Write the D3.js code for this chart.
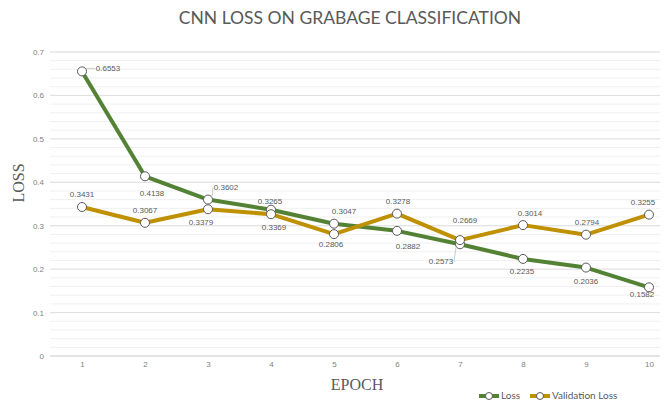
<!DOCTYPE html>
<html><head><meta charset="utf-8">
<script src="https://cdn.jsdelivr.net/npm/d3@7"></script>
<style>body{margin:0;background:#fff}svg{display:block}</style>
</head><body><svg id="c" width="669" height="404"></svg>
<script>
const epochs = [1,2,3,4,5,6,7,8,9,10];
const loss = [0.6553,0.4138,0.3602,0.3369,0.3047,0.2882,0.2573,0.2235,0.2036,0.1582];
const valLoss = [0.3431,0.3067,0.3379,0.3265,0.2806,0.3278,0.2669,0.3014,0.2794,0.3255];
const yTicks = [0,0.1,0.2,0.3,0.4,0.5,0.6,0.7];
const seriesNames = ["Loss","Validation Loss"];
const colors = ["#548235","#BF9000"];
// label offsets (layout) relative to point
const lossLabelOff = [[26,-3],[7,18],[18,-12],[3,18],[10,-12],[11,16],[-19,18],[-1,13],[0,14],[-7,8]];
const valLabelOff = [[0,-12],[0,-12],[-7,14],[-1,-12],[-3,11],[1,-12],[5,-19],[7,-11],[1,-12],[-6,-12]];

const svg = d3.select("#c");
const x = d3.scalePoint().domain(epochs).range([82,649]);
const y = d3.scaleLinear().domain([0,0.7]).range([356,52]);

// minor grid
svg.append("g").selectAll("line").data(d3.range(0,0.7001,0.02)).join("line")
  .attr("x1",50).attr("x2",660).attr("y1",d=>y(d)).attr("y2",d=>y(d))
  .attr("stroke","#f0f0f0").attr("stroke-width",1);
// major grid
svg.append("g").selectAll("line").data(yTicks).join("line")
  .attr("x1",50).attr("x2",660).attr("y1",d=>y(d)).attr("y2",d=>y(d))
  .attr("stroke",d=>d===0?"#d0d0d0":"#e0e0e0").attr("stroke-width",1);

const af = "Liberation Sans, Arial, sans-serif";
const ya = svg.append("g").attr("transform","translate(44,0)")
  .call(d3.axisLeft(y).tickValues(yTicks).tickSize(0).tickPadding(0).tickFormat(d=>d===0?"0":d3.format(".1f")(d)));
ya.select(".domain").remove();
ya.selectAll("text").attr("fill","#7f7f7f").attr("font-size","8px").attr("font-family",af);

const xa = svg.append("g").attr("transform","translate(0,361)")
  .call(d3.axisBottom(x).tickSize(0).tickPadding(0));
xa.select(".domain").remove();
xa.selectAll("text").attr("fill","#7f7f7f").attr("font-size","8px").attr("font-family",af);

const series = [loss, valLoss];
const offs = [lossLabelOff, valLabelOff];
const line = d3.line().x((d,i)=>x(epochs[i])).y(d=>y(d));

series.forEach((s,k)=>{
  svg.append("path").datum(s).attr("d",line).attr("fill","none")
    .attr("stroke",colors[k]).attr("stroke-width",4).attr("stroke-linejoin","round");
});
series.forEach((s,k)=>{
  svg.append("g").selectAll("circle").data(s).join("circle")
    .attr("cx",(d,i)=>x(epochs[i])).attr("cy",d=>y(d)).attr("r",4.5)
    .attr("fill","#fff").attr("stroke","#595959").attr("stroke-width",1);
});
series.forEach((s,k)=>{
  const g = svg.append("g");
  s.forEach((d,i)=>{
    const px = x(epochs[i]), py = y(d);
    const [dx,dy] = offs[k][i];
    const tx = px+dx, ty = py+dy;
    g.append("text").attr("x",tx).attr("y",ty).attr("text-anchor","middle")
      .attr("dominant-baseline","middle").attr("font-size","8px").attr("font-family",af)
      .attr("fill","#595959").text(d3.format(".4f")(d));
    if (Math.hypot(dx,dy)>20) {
      const ex = tx - Math.sign(dx)*Math.min(Math.abs(dx), 13);
      g.append("line").attr("x1",px+Math.sign(dx)*4).attr("y1",py+Math.sign(dy)*3)
        .attr("x2",ex).attr("y2",ty).attr("stroke","#bfbfbf").attr("stroke-width",0.8);
    }
  });
});

svg.append("text").attr("x",350).attr("y",24).attr("text-anchor","middle")
  .attr("font-family","Lato, 'Open Sans', sans-serif").attr("font-size","17.5px").attr("font-weight",400)
  .attr("fill","#595959").text("CNN LOSS ON GRABAGE CLASSIFICATION");
svg.append("text").attr("transform","translate(24,183) rotate(-90)").attr("text-anchor","middle")
  .attr("font-family","Liberation Serif, serif").attr("font-size","16px").attr("fill","#595959").text("LOSS");
svg.append("text").attr("x",357).attr("y",390).attr("text-anchor","middle")
  .attr("font-family","Liberation Serif, serif").attr("font-size","16px").attr("fill","#595959").text("EPOCH");

const lg = svg.append("g");
const legX = [479,530];
seriesNames.forEach((n,k)=>{
  const gx = legX[k], gy = 396;
  lg.append("line").attr("x1",gx).attr("x2",gx+20).attr("y1",gy).attr("y2",gy)
    .attr("stroke",colors[k]).attr("stroke-width",4);
  lg.append("circle").attr("cx",gx+10).attr("cy",gy).attr("r",3.5).attr("fill","#fff")
    .attr("stroke","#595959").attr("stroke-width",1);
  lg.append("text").attr("x",gx+22).attr("y",gy).attr("dominant-baseline","middle")
    .attr("font-family","Lato, sans-serif").attr("font-size","10px").attr("fill","#595959").text(n);
});
</script></body></html>
